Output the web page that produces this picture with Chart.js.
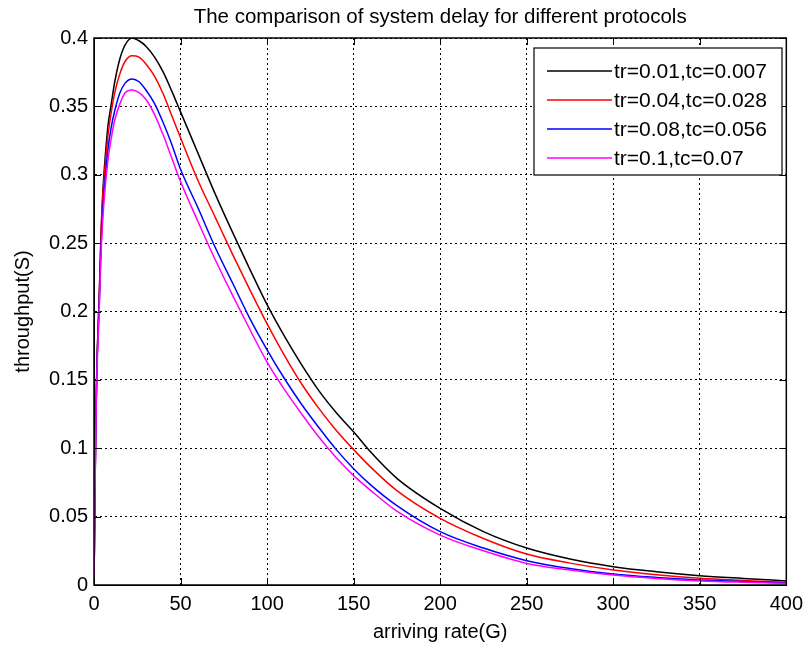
<!DOCTYPE html>
<html lang="en">
<head>
  <meta charset="UTF-8" />
  <title>The comparison of system delay for different protocols</title>
  <script src="https://cdn.jsdelivr.net/npm/chart.js"></script>
  <style>
    body {
      margin: 0;
      background: #fff;
    }
    #wrap {
      width: 810px;
      height: 645px;
    }
  </style>
</head>
<body>

<div id="wrap"><canvas id="delayChart" width="810" height="645"></canvas></div>

<script>
  // arriving rate G (x values shared by every curve)
  const arriving = [0, 0.5, 1, 1.5, 2, 3, 4, 5, 6, 8, 10, 12, 15, 18, 22, 26, 30, 35, 40, 45, 50,
    60, 70, 80, 90, 100, 110, 120, 130, 140, 150, 160, 175, 200, 225, 250, 275, 300, 325, 350, 375, 400];

  // throughput S
  const sBlack = [0, 0.06, 0.115, 0.15, 0.175, 0.21, 0.255, 0.285, 0.305, 0.335, 0.352, 0.368, 0.385, 0.395, 0.4, 0.398, 0.394, 0.386, 0.375, 0.361, 0.346,
    0.316, 0.286, 0.258, 0.231, 0.205, 0.182, 0.161, 0.142, 0.126, 0.112, 0.097, 0.078, 0.056, 0.039, 0.027, 0.019, 0.0134, 0.0097, 0.0068, 0.0048, 0.003];
  const sRed = [0, 0.06, 0.115, 0.15, 0.175, 0.21, 0.253, 0.282, 0.3, 0.328, 0.346, 0.36, 0.374, 0.383, 0.387, 0.386, 0.381, 0.372, 0.359, 0.343, 0.327,
    0.296, 0.269, 0.242, 0.216, 0.191, 0.168, 0.147, 0.129, 0.113, 0.099, 0.086, 0.069, 0.0487, 0.034, 0.0226, 0.016, 0.011, 0.0075, 0.0049, 0.0033, 0.002];
  const sBlue = [0, 0.06, 0.112, 0.148, 0.172, 0.205, 0.245, 0.272, 0.29, 0.318, 0.335, 0.347, 0.36, 0.367, 0.37, 0.368, 0.362, 0.352, 0.338, 0.322, 0.304,
    0.276, 0.247, 0.221, 0.195, 0.172, 0.151, 0.132, 0.115, 0.099, 0.085, 0.073, 0.058, 0.039, 0.027, 0.0178, 0.012, 0.008, 0.0055, 0.0037, 0.0025, 0.0015];
  const sMagenta = [0, 0.058, 0.11, 0.145, 0.168, 0.2, 0.24, 0.266, 0.284, 0.31, 0.327, 0.34, 0.352, 0.36, 0.362, 0.36, 0.355, 0.344, 0.329, 0.312, 0.295,
    0.266, 0.238, 0.212, 0.187, 0.163, 0.143, 0.125, 0.108, 0.093, 0.08, 0.069, 0.054, 0.0365, 0.025, 0.0158, 0.011, 0.0073, 0.0048, 0.003, 0.002, 0.0013];

  const labels = ['tr=0.01,tc=0.007', 'tr=0.04,tc=0.028', 'tr=0.08,tc=0.056', 'tr=0.1,tc=0.07'];
  const colors = ['#000000', '#ff0000', '#0000ff', '#ff00ff'];
  const series = [sBlack, sRed, sBlue, sMagenta];
  const chartTitle = 'The comparison of system delay for different protocols';

  const FONT = 'Arial, "Liberation Sans", Helvetica, sans-serif';

  // title centred over the axes, box + inward tick marks, MATLAB style
  const boxPlugin = {
    id: 'boxPlugin',
    afterDatasetsDraw(chart) {
      const ctx = chart.ctx;
      const a = chart.chartArea;
      const xs = chart.scales.x, ys = chart.scales.y;
      ctx.save();
      ctx.strokeStyle = '#000';
      ctx.lineWidth = 1;
      ctx.setLineDash([]);
      ctx.beginPath();
      xs.ticks.forEach(t => {
        const px = Math.round(xs.getPixelForValue(t.value)) + 0.5;
        ctx.moveTo(px, a.bottom); ctx.lineTo(px, a.bottom - 7);
        ctx.moveTo(px, a.top); ctx.lineTo(px, a.top + 7);
      });
      ys.ticks.forEach(t => {
        const py = Math.round(ys.getPixelForValue(t.value)) + 0.5;
        ctx.moveTo(a.left, py); ctx.lineTo(a.left + 7, py);
        ctx.moveTo(a.right, py); ctx.lineTo(a.right - 7, py);
      });
      ctx.stroke();
      ctx.lineWidth = 1.5;
      ctx.strokeRect(a.left, a.top, a.right - a.left, a.bottom - a.top);

      ctx.fillStyle = '#000';
      ctx.font = '20.5px ' + FONT;
      ctx.textAlign = 'center';
      ctx.textBaseline = 'middle';
      ctx.fillText(chartTitle, (a.left + a.right) / 2, 17);
      ctx.restore();
    }
  };

  // boxed legend in the upper right of the axes
  const legendBox = {
    id: 'legendBox',
    afterDraw(chart) {
      const ctx = chart.ctx;
      const x0 = 534, y0 = 48, w = 248, h = 127;
      ctx.save();
      ctx.fillStyle = '#fff';
      ctx.fillRect(x0, y0, w, h);
      ctx.strokeStyle = '#000';
      ctx.lineWidth = 1.2;
      ctx.strokeRect(x0, y0, w, h);
      ctx.font = '21px ' + FONT;
      ctx.textBaseline = 'middle';
      chart.data.datasets.forEach((ds, i) => {
        const y = y0 + 23 + i * 29;
        ctx.strokeStyle = ds.borderColor;
        ctx.lineWidth = 1.5;
        ctx.beginPath();
        ctx.moveTo(x0 + 13, y);
        ctx.lineTo(x0 + 78, y);
        ctx.stroke();
        ctx.fillStyle = '#000';
        ctx.fillText(ds.label, x0 + 80, y + 1);
      });
      ctx.restore();
    }
  };

  const datasets = series.map((s, i) => ({
    label: labels[i],
    data: arriving.map((g, j) => ({ x: g, y: s[j] })),
    borderColor: colors[i],
    backgroundColor: colors[i],
    borderWidth: 1.5,
    pointRadius: 0,
    fill: false,
    cubicInterpolationMode: 'monotone',
    order: series.length - i
  }));

  new Chart(document.getElementById('delayChart').getContext('2d'), {
    type: 'line',
    data: { datasets: datasets },
    options: {
      responsive: false,
      animation: false,
      layout: { padding: { left: 0, right: 18, top: 38, bottom: 0 } },
      plugins: {
        legend: { display: false },
        tooltip: { enabled: false },
        title: { display: false }
      },
      scales: {
        x: {
          type: 'linear',
          min: 0,
          max: 400,
          afterFit(scale) { scale.height = 60; },
          ticks: { stepSize: 50, color: '#000', padding: 7, maxRotation: 0, font: { family: FONT, size: 20 } },
          grid: { color: '#000', lineWidth: 1, drawTicks: false },
          border: { dash: [2, 3], color: '#000' },
          title: {
            display: true,
            text: 'arriving rate(G)',
            color: '#000',
            font: { family: FONT, size: 20 },
            padding: { top: 0, bottom: 1 }
          }
        },
        y: {
          min: 0,
          max: 0.4,
          afterFit(scale) { scale.width = 94; },
          ticks: {
            stepSize: 0.05,
            color: '#000',
            padding: 6,
            font: { family: FONT, size: 20 },
            callback: v => String(+v.toFixed(2))
          },
          grid: { color: '#000', lineWidth: 1, drawTicks: false },
          border: { dash: [2, 3], color: '#000' },
          title: {
            display: true,
            text: 'throughput(S)',
            color: '#000',
            font: { family: FONT, size: 20 },
            padding: { top: 11, bottom: 0 }
          }
        }
      }
    },
    plugins: [boxPlugin, legendBox]
  });
</script>

</body>
</html>
